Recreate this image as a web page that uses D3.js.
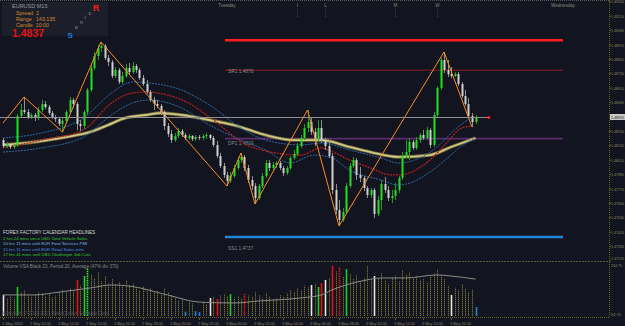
<!DOCTYPE html>
<html><head><meta charset="utf-8">
<script src="https://cdnjs.cloudflare.com/ajax/libs/d3/7.8.5/d3.min.js"></script>
<style>
html,body{margin:0;padding:0;background:#12141f;overflow:hidden}
svg{display:block}
text{font-family:"Liberation Sans",Arial,sans-serif}
</style>
</head><body>
<svg id="c" width="625" height="326"></svg>
<script>
// ---------------- DATA ----------------
const symbol = "EURUSD", timeframe = "M15";
const startTime = "2011-05-02T08:00";
const opens = [1.48178,1.48128,1.48145,1.48120,1.48137,1.48378,1.48428,1.48412,1.48370,1.48387,1.48362,1.48428,1.48478,1.48453,1.48403,1.48370,1.48353,1.48312,1.48337,1.48412,1.48512,1.48478,1.48312,1.48295,1.48412,1.48595,1.48778,1.48878,1.48945,1.48962,1.48862,1.48828,1.48712,1.48762,1.48662,1.48712,1.48778,1.48745,1.48795,1.48762,1.48695,1.48645,1.48578,1.48512,1.48478,1.48462,1.48412,1.48295,1.48228,1.48178,1.48212,1.48253,1.48220,1.48195,1.48212,1.48187,1.48203,1.48195,1.48212,1.48220,1.48195,1.48137,1.48045,1.47962,1.47887,1.47837,1.47878,1.47945,1.48012,1.48037,1.47945,1.47845,1.47795,1.47695,1.47795,1.47878,1.47987,1.47945,1.47970,1.47987,1.47945,1.47903,1.47945,1.48028,1.48062,1.48128,1.48195,1.48278,1.48328,1.48245,1.48178,1.48278,1.48178,1.48128,1.48045,1.47762,1.47595,1.47512,1.47578,1.47795,1.47962,1.48012,1.47887,1.47862,1.47778,1.47720,1.47762,1.47562,1.47678,1.47812,1.47762,1.47695,1.47712,1.47762,1.47862,1.48045,1.48078,1.48162,1.48112,1.48178,1.48220,1.48195,1.48262,1.48137,1.48387,1.48612,1.48845,1.48762,1.48728,1.48712,1.48728,1.48645,1.48545,1.48478,1.48378,1.48328];
const highs = [1.48195,1.48162,1.48153,1.48145,1.48395,1.48478,1.48537,1.48437,1.48403,1.48403,1.48453,1.48512,1.48503,1.48470,1.48420,1.48387,1.48370,1.48362,1.48428,1.48537,1.48528,1.48495,1.48345,1.48428,1.48612,1.48803,1.48912,1.48970,1.48995,1.48978,1.48887,1.48845,1.48787,1.48778,1.48745,1.48812,1.48820,1.48828,1.48812,1.48778,1.48720,1.48678,1.48595,1.48537,1.48512,1.48478,1.48428,1.48320,1.48262,1.48237,1.48278,1.48270,1.48237,1.48228,1.48220,1.48220,1.48220,1.48228,1.48237,1.48228,1.48212,1.48170,1.48070,1.47987,1.47912,1.47912,1.47970,1.48037,1.48070,1.48053,1.47970,1.47878,1.47820,1.47812,1.47903,1.48012,1.48012,1.47995,1.48003,1.48003,1.47962,1.47962,1.48045,1.48095,1.48153,1.48220,1.48312,1.48428,1.48362,1.48278,1.48345,1.48345,1.48195,1.48178,1.48070,1.47812,1.47678,1.47612,1.47820,1.47987,1.48037,1.48028,1.47953,1.47878,1.47795,1.47778,1.47778,1.47712,1.47845,1.47870,1.47795,1.47762,1.47820,1.47878,1.48078,1.48178,1.48195,1.48178,1.48203,1.48237,1.48262,1.48287,1.48278,1.48412,1.48628,1.48862,1.48912,1.48845,1.48787,1.48745,1.48745,1.48662,1.48595,1.48528,1.48403,1.48387];
const lows = [1.48112,1.48112,1.48103,1.48103,1.48120,1.48362,1.48395,1.48353,1.48353,1.48337,1.48345,1.48412,1.48437,1.48387,1.48353,1.48328,1.48295,1.48245,1.48320,1.48395,1.48445,1.48262,1.48253,1.48270,1.48387,1.48578,1.48762,1.48845,1.48912,1.48845,1.48795,1.48695,1.48695,1.48645,1.48645,1.48695,1.48728,1.48728,1.48737,1.48678,1.48628,1.48562,1.48495,1.48428,1.48445,1.48387,1.48262,1.48203,1.48153,1.48162,1.48195,1.48203,1.48178,1.48178,1.48170,1.48170,1.48178,1.48178,1.48187,1.48178,1.48120,1.48028,1.47945,1.47862,1.47795,1.47820,1.47862,1.47928,1.47987,1.47920,1.47820,1.47762,1.47645,1.47678,1.47778,1.47862,1.47920,1.47928,1.47945,1.47928,1.47878,1.47887,1.47928,1.48012,1.48045,1.48112,1.48178,1.48245,1.48220,1.48128,1.48162,1.48153,1.48095,1.48028,1.47728,1.47562,1.47462,1.47495,1.47562,1.47778,1.47945,1.47845,1.47828,1.47753,1.47695,1.47695,1.47528,1.47545,1.47595,1.47737,1.47670,1.47653,1.47678,1.47737,1.47845,1.48028,1.48012,1.48095,1.48095,1.48153,1.48178,1.48178,1.48112,1.48120,1.48370,1.48595,1.48737,1.48703,1.48695,1.48703,1.48628,1.48528,1.48462,1.48362,1.48287,1.48312];
const closes = [1.48128,1.48145,1.48120,1.48137,1.48378,1.48428,1.48412,1.48370,1.48387,1.48362,1.48428,1.48478,1.48453,1.48403,1.48370,1.48353,1.48312,1.48337,1.48412,1.48512,1.48478,1.48312,1.48295,1.48412,1.48595,1.48778,1.48878,1.48945,1.48962,1.48862,1.48828,1.48712,1.48762,1.48662,1.48712,1.48778,1.48745,1.48795,1.48762,1.48695,1.48645,1.48578,1.48512,1.48478,1.48462,1.48412,1.48295,1.48228,1.48178,1.48212,1.48253,1.48220,1.48195,1.48212,1.48187,1.48203,1.48195,1.48212,1.48220,1.48195,1.48137,1.48045,1.47962,1.47887,1.47837,1.47878,1.47945,1.48012,1.48037,1.47945,1.47845,1.47795,1.47695,1.47795,1.47878,1.47987,1.47945,1.47970,1.47987,1.47945,1.47903,1.47945,1.48028,1.48062,1.48128,1.48195,1.48278,1.48328,1.48245,1.48178,1.48278,1.48178,1.48128,1.48045,1.47762,1.47595,1.47512,1.47578,1.47795,1.47962,1.48012,1.47887,1.47862,1.47778,1.47720,1.47762,1.47562,1.47678,1.47812,1.47762,1.47695,1.47712,1.47762,1.47862,1.48045,1.48078,1.48162,1.48112,1.48178,1.48220,1.48195,1.48262,1.48137,1.48387,1.48612,1.48845,1.48762,1.48728,1.48712,1.48728,1.48645,1.48545,1.48478,1.48378,1.48328,1.48370];
const volumes = [97,80,92,85,134,110,118,95,88,100,112,105,90,98,86,94,108,122,115,128,118,166,140,184,221,190,175,200,160,182,150,170,145,158,136,165,142,150,128,118,135,122,130,108,115,98,126,110,96,85,72,80,20,66,58,22,18,62,55,83,88,78,95,102,90,101,86,92,80,101,94,88,112,96,84,105,90,78,82,96,88,104,118,110,126,120,140,132,143,150,134,152,166,172,230,205,226,180,216,195,170,188,160,175,232,168,184,172,198,165,150,178,186,160,210,190,200,176,185,162,170,155,182,196,215,188,170,140,97,130,118,145,128,110,122,41];
const volSpecialIdx  = [0,4,21,23,24,52,55,56,59,61,65,69,88,90,91,92,94,96,98,106,128,135];
const volSpecialKind = ["w","g","r","g","gd","b","b","b","w","r","g","rd","w","g","r","w","r","rd","g","w","w","b"];
const volAvgIdx = [0,9,16,25,31,36,47,56,66,73,85,91,94,98,104,108,115,124,128,135];
const volAvg    = [97,97,110,129,143,138,97,64,60,69,83,97,120,143,166,175,175,189,184,170];

const emaYellowIdx = [0,9,18,24,30,35,41,45,51,59,66,75,83,91,99,105,113,122,128,135];
const emaYellow    = [1.48137,1.48162,1.48203,1.48237,1.48303,1.48362,1.48387,1.48403,1.48387,1.48345,1.48303,1.48220,1.48178,1.48178,1.48120,1.48078,1.48037,1.48053,1.48120,1.48195];
const emaRedIdx = [0,11,23,31,37,41,47,53,59,71,85,91,93,99,105,111,113,122,127,131,134];
const emaRed    = [1.48112,1.48178,1.48262,1.48487,1.48570,1.48578,1.48553,1.48487,1.48370,1.48120,1.48053,1.48112,1.48095,1.48012,1.47945,1.47887,1.47887,1.48012,1.48162,1.48278,1.48295];
const emaHighIdx = [0,11,23,31,37,42,51,59,68,75,85,91,99,108,113,119,124,129,134];
const emaHigh    = [1.48195,1.48237,1.48362,1.48570,1.48662,1.48653,1.48595,1.48470,1.48278,1.48178,1.48137,1.48153,1.48095,1.48028,1.47987,1.48028,1.48120,1.48262,1.48370];
const emaLowIdx = [0,11,23,31,37,42,51,59,68,75,82,89,94,99,108,113,117,122,127,131,135];
const emaLow    = [1.48078,1.48112,1.48203,1.48387,1.48487,1.48512,1.48445,1.48303,1.48178,1.48095,1.47987,1.48053,1.48028,1.47928,1.47845,1.47803,1.47828,1.47912,1.48028,1.48128,1.48195];

const zigzagIdx   = [0,6,17,28,64,68,72,87,96,126,134];
const zigzagPrice = [1.48320,1.48537,1.48245,1.48995,1.47795,1.48070,1.47645,1.48428,1.47462,1.48912,1.48287];

const levelNames  = ["", "SR1", "DP1", "SS1"];
const levelValues = [1.4901, 1.4876, 1.4819, 1.4737];
const levelFromTime = "2011-05-03T00:00", levelToTime = "2011-05-04T00:00";

const priceTicks = [1.4717,1.4729,1.4741,1.4753,1.4765,1.4777,1.4789,1.4801,1.4813,1.4825,1.4849,1.4861,1.4873,1.4885,1.4897,1.4909,1.4921,1.4933];
const timeTicks = ["2011-05-02T08:00","2011-05-02T10:00","2011-05-02T12:00","2011-05-02T14:00","2011-05-02T16:00","2011-05-02T18:00","2011-05-02T20:00","2011-05-02T22:00","2011-05-03T00:00","2011-05-03T02:00","2011-05-03T04:00","2011-05-03T06:00","2011-05-03T08:00","2011-05-03T10:00","2011-05-03T12:00","2011-05-03T14:00","2011-05-03T16:00"];
const dayNames = ["Tuesday","Wednesday"];
const dayTimes = ["2011-05-03T00:00","2011-05-04T00:00"];
const eventLetters = ["I","L","M","W"];
const eventTimes = ["2011-05-03T05:00","2011-05-03T07:00","2011-05-03T12:00","2011-05-03T15:00"];

const infoLines = ["Spread  2", "Range   143,135", "Candle  10:00"];
const sonicLetters = ["S","o","n","i","c","R"];
const newsTitle = "FOREX FACTORY CALENDAR  HEADLINES";
const newsLines = ["2 hrs 24 mins since USD   Total Vehicle Sales","10 hrs 11 mins until EUR   Final Services PMI","15 hrs 11 mins until EUR   Retail Sales m/m","17 hrs 41 mins until USD   Challenger Job Cuts"];
const volTitle = "Volume VSA  Black 20, Period 20, Average (47% div 370)";
const volAxisLabels = ["234.75","64.75"];
const copyright = "Copyright \u00a9 2001-2011, MetaQuotes Software Corp.";

// ---------------- DRAW ----------------
const W = 625, H = 326;
const svg = d3.select("#c");
const parse = d3.utcParse("%Y-%m-%dT%H:%M");
const t0 = parse(startTime);
const idxOf = s => (parse(s) - t0) / (15 * 60000);

const x = d3.scaleLinear().domain([0, 135]).range([3, 475.5]);
const y = d3.scaleLinear().domain([1.47170, 1.49345]).range([261, 0]);
const yv = d3.scaleLinear().domain([0, 234.75]).range([316, 265]);
const px = i => Math.round(x(i));

svg.append("rect").attr("width", W).attr("height", H).attr("fill", "#12141f");
const defs = svg.append("defs");
defs.append("clipPath").attr("id", "cm").append("rect").attr("x", 0).attr("y", 0).attr("width", 609).attr("height", 261);

// frame
const frame = svg.append("g").attr("fill", "none");
frame.append("line").attr("x1", 0).attr("x2", 609).attr("y1", 0.5).attr("y2", 0.5).attr("stroke", "#5a5a5a").attr("stroke-dasharray", "1,1");
frame.append("line").attr("x1", 609.5).attr("x2", 609.5).attr("y1", 0).attr("y2", 318).attr("stroke", "#6b5e22").attr("stroke-dasharray", "1,1");
frame.append("line").attr("x1", 0).attr("x2", 609).attr("y1", 261.5).attr("y2", 261.5).attr("stroke", "#5e5a3c").attr("stroke-dasharray", "2,1");
frame.append("line").attr("x1", 0).attr("x2", 609).attr("y1", 317.5).attr("y2", 317.5).attr("stroke", "#6b5e22").attr("stroke-dasharray", "1,1");

const main = svg.append("g").attr("clip-path", "url(#cm)");

// S/R levels
const levelColors = ["#ff1c1c", "#8e1d1d", "#5b2b6e", "#1f86d8"];
const levelWidths = [2.5, 1, 1.6, 2.5];
const lx1 = x(idxOf(levelFromTime)) - 2, lx2 = x(idxOf(levelToTime));
levelValues.forEach((v, k) => {
  main.append("line").attr("x1", lx1).attr("x2", lx2).attr("y1", y(v)).attr("y2", y(v))
    .attr("stroke", levelColors[k]).attr("stroke-width", levelWidths[k]);
});
const labelDy = [0, 2.5, 6.5, 13];
levelValues.forEach((v, k) => {
  if (!levelNames[k]) return;
  main.append("text").attr("x", lx1 + 3).attr("y", y(v) + labelDy[k])
    .attr("font-size", 4.8).attr("fill", "#8a8a8a").text(levelNames[k] + "  " + d3.format(".4f")(v));
});

// day separators & event markers at top
dayNames.forEach((n, k) => {
  const xx = x(idxOf(dayTimes[k]));
  svg.append("text").attr("x", xx).attr("y", 6.5).attr("text-anchor", "middle").attr("font-size", 4.6).attr("fill", "#8a8a7a").text(n);
});
eventLetters.forEach((n, k) => {
  const xx = px(idxOf(eventTimes[k])) + 0.5;
  svg.append("text").attr("x", xx).attr("y", 6.5).attr("text-anchor", "middle").attr("font-size", 4.6).attr("fill", "#8a8a7a").text(n);
  svg.append("line").attr("x1", xx).attr("x2", xx).attr("y1", 8).attr("y2", 17).attr("stroke", "#3c3c44").attr("stroke-dasharray", "1,1");
});

// moving averages
const line = (idx, vals) => d3.line().x((d, i) => x(idx[i])).y(d => y(d)).curve(d3.curveMonotoneX)(vals);
main.append("path").attr("d", line(emaYellowIdx, emaYellow)).attr("fill", "none").attr("stroke", "#6f6a3c").attr("stroke-width", 3.4);
main.append("path").attr("d", line(emaYellowIdx, emaYellow)).attr("fill", "none").attr("stroke", "#cfc784").attr("stroke-width", 1.8);
main.append("path").attr("d", line(emaHighIdx, emaHigh)).attr("fill", "none").attr("stroke", "#2d6aa8").attr("stroke-width", 1).attr("stroke-dasharray", "2,1");
main.append("path").attr("d", line(emaLowIdx, emaLow)).attr("fill", "none").attr("stroke", "#2d6aa8").attr("stroke-width", 1).attr("stroke-dasharray", "2,1");
main.append("path").attr("d", line(emaRedIdx, emaRed)).attr("fill", "none").attr("stroke", "#b3201c").attr("stroke-width", 1.3).attr("stroke-dasharray", "2,1");

// candles
const cg = main.append("g");
const idx = d3.range(closes.length);
cg.selectAll("line.w").data(idx).join("line")
  .attr("x1", i => px(i) + 0.5).attr("x2", i => px(i) + 0.5)
  .attr("y1", i => y(highs[i])).attr("y2", i => y(lows[i]))
  .attr("stroke", i => closes[i] >= opens[i] ? "#1f9a1f" : "#8e8e8e").attr("stroke-width", 1);
cg.selectAll("rect.b").data(idx).join("rect")
  .attr("x", i => px(i) - 0.5).attr("width", 2)
  .attr("y", i => y(Math.max(opens[i], closes[i])))
  .attr("height", i => Math.max(1, Math.abs(y(opens[i]) - y(closes[i]))))
  .attr("fill", i => closes[i] >= opens[i] ? "#22e022" : "#cfcfcf");

// zigzag
main.append("path").attr("d", d3.line().x((d, i) => x(zigzagIdx[i])).y(d => y(d))(zigzagPrice))
  .attr("fill", "none").attr("stroke", "#ff8a1c").attr("stroke-width", 1);

// current price line
const last = closes[closes.length - 1];
const cpx = x(138.5);
main.append("line").attr("x1", 0).attr("x2", cpx).attr("y1", Math.round(y(last)) + 0.5).attr("y2", Math.round(y(last)) + 0.5).attr("stroke", "#8e8e8e").attr("stroke-width", 1);
main.append("circle").attr("cx", cpx + 1).attr("cy", Math.round(y(last)) + 0.5).attr("r", 1.6).attr("fill", "#ff2020");

// price axis
const ax = svg.append("g");
const axLabel = (yy, s, fill) => ax.append("text").attr("x", 611).attr("y", yy).attr("font-size", 4.2)
  .attr("textLength", 13).attr("lengthAdjust", "spacingAndGlyphs").attr("fill", fill).text(s);
priceTicks.forEach(v => {
  const yy = y(v);
  ax.append("line").attr("x1", 609).attr("x2", 611).attr("y1", yy).attr("y2", yy).attr("stroke", "#6b5e22");
  axLabel(Math.min(yy + 1.5, 259.5), d3.format(".5f")(v), "#8e8664");
});
ax.append("rect").attr("x", 610).attr("y", y(last) - 3).attr("width", 15).attr("height", 6).attr("fill", "#c8c8c8");
axLabel(y(last) + 1.5, d3.format(".5f")(last), "#1a1a1a");
axLabel(266.5, volAxisLabels[0], "#8e8664").attr("textLength", 11);
axLabel(316, volAxisLabels[1], "#8e8664").attr("textLength", 10);

// time axis
timeTicks.forEach((s, k) => {
  const xx = px(idxOf(s));
  const d = parse(s);
  const lab = k === 0 ? d3.utcFormat("%-d %b %Y")(d) : d3.utcFormat("%-d %b %H:%M")(d);
  svg.append("line").attr("x1", xx + 0.5).attr("x2", xx + 0.5).attr("y1", 318).attr("y2", 320).attr("stroke", "#6b5e22");
  svg.append("text").attr("x", xx - 1).attr("y", 324.5).attr("font-size", 4.4)
    .attr("textLength", 21).attr("lengthAdjust", "spacingAndGlyphs").attr("fill", "#8e8664").text(lab);
});

// volume panel
const vg = svg.append("g");
const kindOf = {};
volSpecialIdx.forEach((i, k) => kindOf[i] = volSpecialKind[k]);
const kindColor = {w: "#e6e6e6", g: "#22cc22", gd: "#22ee22", r: "#e01414", rd: "#e01414", b: "#1e88d8"};
vg.selectAll("line.v").data(idx).join("line")
  .attr("x1", i => px(i) + 0.5).attr("x2", i => px(i) + 0.5)
  .attr("y1", yv(0)).attr("y2", i => yv(volumes[i]))
  .attr("stroke", i => kindOf[i] ? kindColor[kindOf[i]] : "#716a30")
  .attr("stroke-width", i => kindOf[i] ? 1.6 : 1)
  .attr("stroke-dasharray", i => (kindOf[i] === "gd" || kindOf[i] === "rd") ? "1.5,0.8" : (kindOf[i] ? null : "1.4,0.6"));
vg.append("path").attr("d", d3.line().x((d, i) => x(volAvgIdx[i])).y(d => yv(d)).curve(d3.curveMonotoneX)(volAvg))
  .attr("fill", "none").attr("stroke", "#8c8c84").attr("stroke-width", 1);
vg.append("text").attr("x", 3).attr("y", 268).attr("font-size", 4.6).attr("fill", "#8a8a8a").text(volTitle);
vg.append("text").attr("x", 3).attr("y", 315).attr("font-size", 4.6).attr("fill", "#4e4e56").text(copyright);

// news
svg.append("text").attr("x", 3).attr("y", 233.5).attr("font-size", 4.6).attr("fill", "#d8d8d8").text(newsTitle);
const newsColors = ["#33cc33", "#7fb0e0", "#4a8fe0", "#33cc33"];
newsLines.forEach((s, k) => {
  svg.append("text").attr("x", 3).attr("y", 240 + k * 5.4).attr("font-size", 4.3).attr("fill", newsColors[k]).text(s);
});

// info box
const ib = svg.append("g");
ib.append("rect").attr("x", 2).attr("y", 2).attr("width", 106).attr("height", 34).attr("fill", "#1c1e2a");
ib.append("text").attr("x", 12).attr("y", 8).attr("font-size", 5.5).attr("fill", "#9a9a9a").text(symbol + "  " + timeframe);
infoLines.forEach((s, k) => {
  ib.append("text").attr("x", 16).attr("y", 15 + k * 6).attr("font-size", 5.3).attr("fill", "#d2892d").attr("xml:space", "preserve").text(s);
});
ib.append("text").attr("x", 12).attr("y", 37).attr("font-size", 10.5).attr("font-weight", "bold").attr("fill", "#e21212").text(d3.format(".4f")(last));
const sonicPos = [[67.5, 37.5, 8, "#1e80e0", "bold"], [75, 29, 5, "#9a9a9a", "normal"], [80, 24, 5, "#9a9a9a", "normal"], [84.5, 19, 5, "#9a9a9a", "normal"], [88.5, 14.5, 5, "#9a9a9a", "normal"], [93, 10.5, 8.5, "#ff1c1c", "bold"]];
sonicLetters.forEach((s, k) => {
  const p = sonicPos[k];
  ib.append("text").attr("x", p[0]).attr("y", p[1]).attr("font-size", p[2]).attr("fill", p[3]).attr("font-weight", p[4]).text(s);
});
</script>
</body></html>
